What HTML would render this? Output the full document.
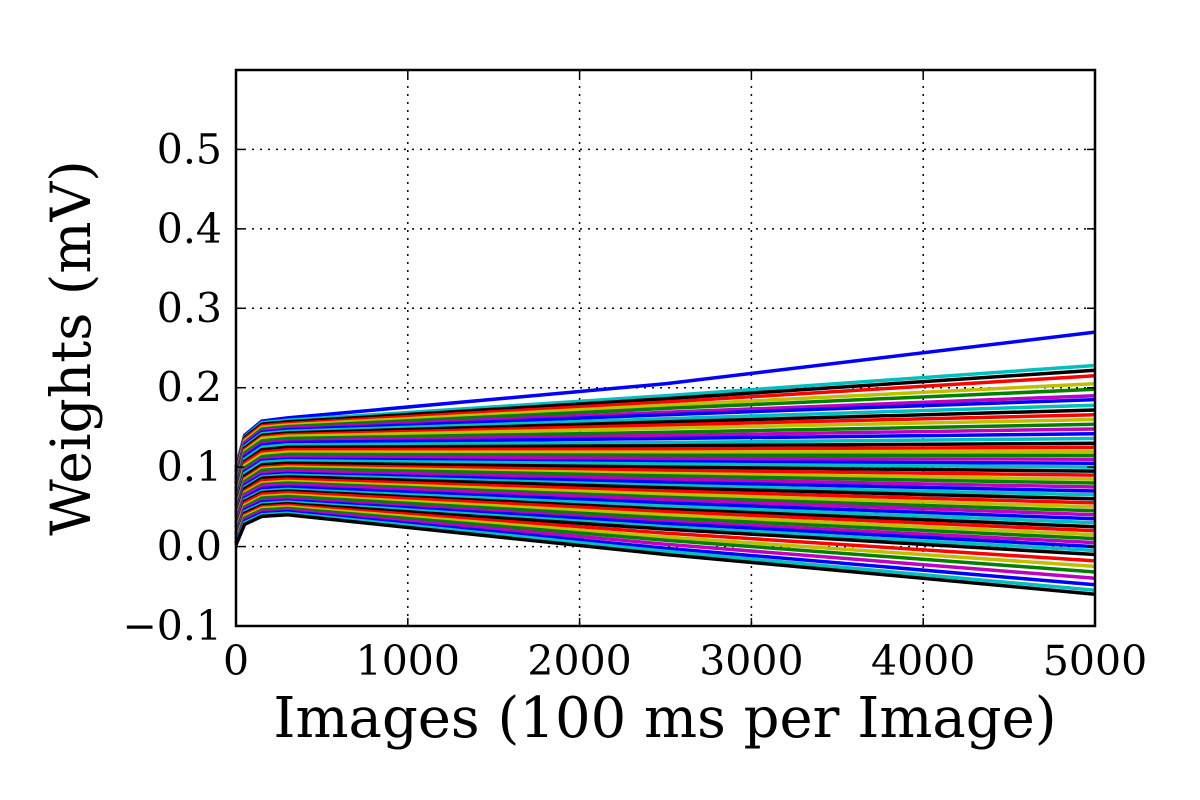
<!DOCTYPE html>
<html><head><meta charset="utf-8"><style>
body{margin:0;background:#fff;}
svg{display:block;font-family:"DejaVu Serif","Liberation Serif",serif;}
</style></head><body>
<svg id="chart" width="1200" height="800" viewBox="0 0 1200 800">
<rect width="1200" height="800" fill="#fff"/>
<g id="grid"></g>
<g id="lines"></g>
<rect x="236" y="70" width="859" height="556" fill="none" stroke="#000" stroke-width="2.5"/>
<g id="ticks"></g>
<text x="665" y="737" font-size="56" text-anchor="middle">Images (100 ms per Image)</text>
<text transform="translate(90,348) rotate(-90)" font-size="55" text-anchor="middle">Weights (mV)</text>
</svg>
<script>
const xTicks=[0,1000,2000,3000,4000,5000];
const yTicks=[-0.1,0.0,0.1,0.2,0.3,0.4,0.5];
const yTickLabels=["\u22120.1","0.0","0.1","0.2","0.3","0.4","0.5"];
const sampleX=[0,50,150,300,2500,5000];
const startVals=[0.100,0.098,0.095,0.093,0.090,0.088,0.086,0.084,0.082,0.080,0.078,0.076,0.074,0.072,0.070,0.068,0.066,0.064,0.062,0.060,0.058,0.056,0.054,0.052,0.050,0.048,0.046,0.044,0.042,0.040,0.038,0.036,0.034,0.032,0.030,0.028,0.026,0.024,0.022,0.020,0.018,0.016,0.014,0.012,0.010,0.009,0.008,0.006,0.005,0.004,0.003,0.002];
const earlyVals=[0.140,0.138,0.137,0.135,0.133,0.131,0.130,0.128,0.126,0.124,0.122,0.120,0.118,0.115,0.113,0.110,0.107,0.105,0.102,0.099,0.096,0.094,0.092,0.089,0.086,0.084,0.082,0.079,0.077,0.075,0.073,0.070,0.068,0.066,0.064,0.061,0.059,0.057,0.055,0.052,0.050,0.048,0.046,0.044,0.042,0.040,0.038,0.036,0.034,0.032,0.030,0.028];
const peakVals=[0.158,0.156,0.154,0.152,0.150,0.148,0.146,0.144,0.142,0.140,0.138,0.136,0.133,0.130,0.128,0.125,0.122,0.119,0.116,0.113,0.110,0.108,0.106,0.103,0.100,0.098,0.096,0.093,0.090,0.088,0.086,0.083,0.080,0.078,0.076,0.073,0.070,0.068,0.066,0.063,0.061,0.058,0.056,0.054,0.052,0.050,0.048,0.046,0.044,0.042,0.040,0.038];
const plateauVals=[0.162,0.159,0.157,0.155,0.153,0.151,0.149,0.147,0.145,0.143,0.141,0.139,0.136,0.133,0.131,0.128,0.125,0.122,0.119,0.116,0.113,0.110,0.108,0.105,0.102,0.100,0.098,0.095,0.092,0.090,0.088,0.085,0.082,0.080,0.078,0.075,0.072,0.070,0.068,0.065,0.063,0.060,0.058,0.056,0.054,0.052,0.050,0.048,0.046,0.044,0.042,0.040];
const midVals=[0.205,0.190,0.186,0.182,0.178,0.174,0.169,0.166,0.161,0.157,0.153,0.149,0.144,0.140,0.136,0.131,0.127,0.123,0.119,0.115,0.111,0.107,0.104,0.100,0.096,0.092,0.089,0.085,0.081,0.077,0.074,0.070,0.066,0.062,0.059,0.055,0.051,0.047,0.044,0.040,0.036,0.032,0.029,0.025,0.022,0.017,0.012,0.008,0.003,-0.002,-0.006,-0.010];
const endVals=[0.270,0.228,0.222,0.215,0.205,0.198,0.190,0.185,0.178,0.172,0.166,0.160,0.154,0.148,0.142,0.136,0.130,0.125,0.120,0.115,0.110,0.105,0.100,0.095,0.090,0.085,0.080,0.075,0.070,0.065,0.060,0.055,0.050,0.045,0.040,0.035,0.030,0.025,0.020,0.015,0.010,0.005,0.000,-0.005,-0.010,-0.018,-0.025,-0.032,-0.040,-0.048,-0.055,-0.060];
const colors=["#0000ff","#008000","#ff0000","#00bfbf","#bf00bf","#bfbf00","#000000"];
const NS="http://www.w3.org/2000/svg";
const X0=236,X1=1095,Y0=626,Y1=70;
function sx(v){return X0+(v-0)/(5000-0)*(X1-X0);}
function sy(v){return Y0-(v+0.1)/(0.6+0.1)*(Y0-Y1);}
const grid=document.getElementById('grid'),ticks=document.getElementById('ticks'),lines=document.getElementById('lines');
function mk(tag,attrs,parent){const e=document.createElementNS(NS,tag);for(const k in attrs)e.setAttribute(k,attrs[k]);parent.appendChild(e);return e;}
xTicks.forEach((t,i)=>{
 const x=sx(t);
 if(i>0&&i<xTicks.length-1){const g=mk('line',{x1:x,x2:x,y1:Y1,y2:Y0,stroke:'#000','stroke-width':1.5,'stroke-dasharray':'2,6'},grid);
 
 }
 mk('line',{x1:x,x2:x,y1:Y0,y2:Y0-8,stroke:'#000','stroke-width':1.5},ticks);
 mk('line',{x1:x,x2:x,y1:Y1,y2:Y1+8,stroke:'#000','stroke-width':1.5},ticks);
 const tx=mk('text',{x:x,y:675,'font-size':41,'text-anchor':'middle'},ticks);tx.textContent=t;
 
 
});
yTicks.forEach((t,i)=>{
 const y=sy(t);
 if(i>0){const g=mk('line',{x1:X0,x2:X1,y1:y,y2:y,stroke:'#000','stroke-width':1.5,'stroke-dasharray':'2,6'},grid);
 
 }
 mk('line',{x1:X0,x2:X0+8,y1:y,y2:y,stroke:'#000','stroke-width':1.5},ticks);
 mk('line',{x1:X1,x2:X1-8,y1:y,y2:y,stroke:'#000','stroke-width':1.5},ticks);
 const tx=mk('text',{x:222,y:y+14,'font-size':41,'text-anchor':'end'},ticks);tx.textContent=yTickLabels[i];
 
 
});
startVals.forEach((s,i)=>{
 const vals=[s,earlyVals[i],peakVals[i],plateauVals[i],midVals[i],endVals[i]];
 const pts=vals.map((v,j)=>sx(sampleX[j]).toFixed(1)+','+sy(v).toFixed(1)).join(' ');
 const p=mk('polyline',{points:pts,fill:'none',stroke:colors[(i*3)%7],'stroke-width':3.5,'stroke-linejoin':'round'},lines);
 
 
});
</script>
</body></html>
